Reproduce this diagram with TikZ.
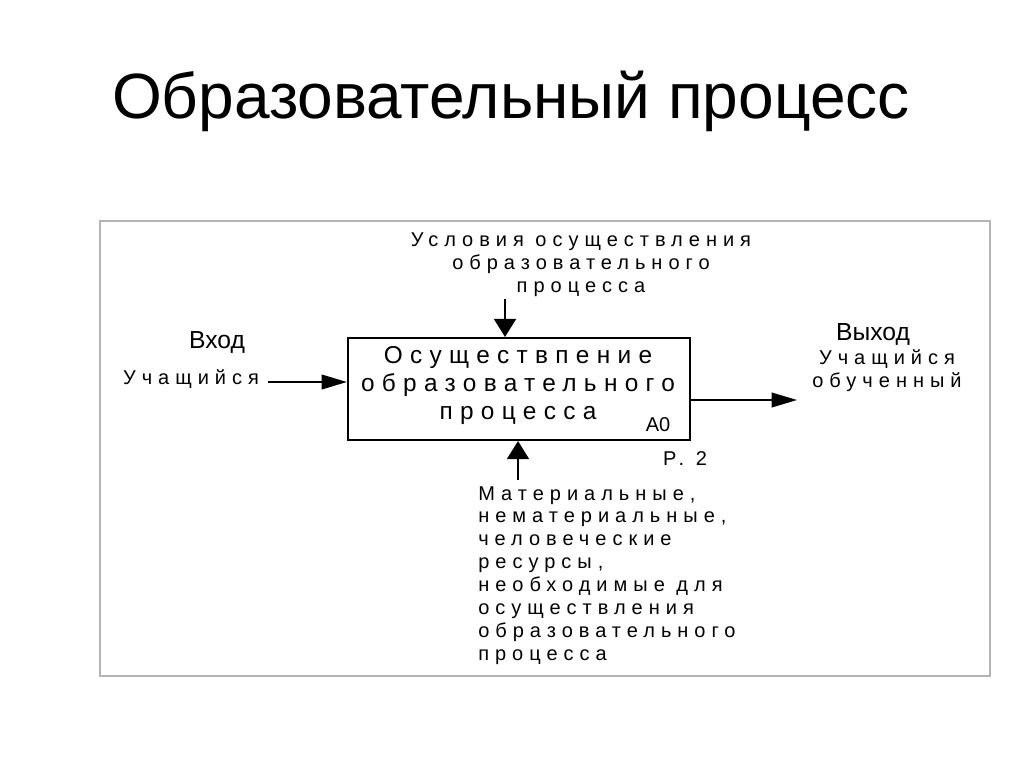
\documentclass[tikz,border=0pt]{standalone}
\usepackage{fontspec}
\setmainfont{Liberation Sans}
\newfontfamily\idef[LetterSpace=30]{Liberation Sans}
\usepackage{xcolor}
\usetikzlibrary{arrows.meta}
\definecolor{ink}{HTML}{000000}
\definecolor{framec}{HTML}{B4B4B4}
\tikzset{
  frame/.style={draw=framec, line width=1.1pt},
  procbox/.style={draw=ink, line width=1.6pt, minimum width=256.5pt, minimum height=76.5pt, inner sep=0pt},
  flowh/.style={draw=ink, line width=1.3pt, -{Triangle[length=19pt, width=11pt]}},
  flowv/.style={draw=ink, line width=1.3pt, -{Triangle[length=13.5pt, width=16.5pt]}},
  big/.style={text=ink, font=\idef\fontsize{18.3}{21}\selectfont, align=center, inner sep=0pt},
  small/.style={text=ink, font=\idef\fontsize{15}{17.2}\selectfont, inner sep=0pt},
  head/.style={text=ink, font=\fontsize{18.5}{22}\selectfont, inner sep=0pt},
}
\begin{document}
\begin{tikzpicture}[x=0.75pt, y=-0.75pt]
  \useasboundingbox (0,0) rectangle (1024,767);

  \node[text=ink, font=\fontsize{48}{56}\selectfont, inner sep=0pt] (title) at (511,101) {Образовательный процесс};

  \draw[frame] (100,221) rectangle (990,676);

  \node[procbox] (proc) at (519,389) {};
  \node[big] (proctext) at (518,386) {Осуществпение\\образовательного\\процесса};
  \node[text=ink, font=\fontsize{15}{18}\selectfont, inner sep=0pt] (code) at (658,425) {А0};

  % control, top
  \node[small, align=center] (ctrl) at (581,265) {Условия осуществления\\образовательного\\процесса};
  \coordinate (ctrlS) at (505,299);
  \draw[flowv] (ctrlS) -- (ctrlS |- proc.north);

  % input, left
  \node[head] (vhod) at (217,342) {Вход};
  \node[small] (inlab) at (191,379) {Учащийся};
  \coordinate (inS) at (268,382);
  \draw[flowh] (inS) -- (inS -| proc.west);

  % output, right
  \node[head] (vyhod) at (873,334) {Выход};
  \node[small, align=center] (outlab) at (887,371) {Учащийся\\обученный};
  \coordinate (outE) at (797,400);
  \draw[flowh] (outE -| proc.east) -- (outE);

  \node[small] (page) at (685,459) {Р. 2};

  % mechanism, bottom
  \coordinate (mechN) at (518,480);
  \draw[flowv] (mechN) -- (mechN |- proc.south);
  \node[small, align=left, anchor=north west] (mech) at (478,486) {Материальные,\\нематериальные,\\человеческие\\ресурсы,\\необходимые для\\осуществления\\образовательного\\процесса};
\end{tikzpicture}
\end{document}
